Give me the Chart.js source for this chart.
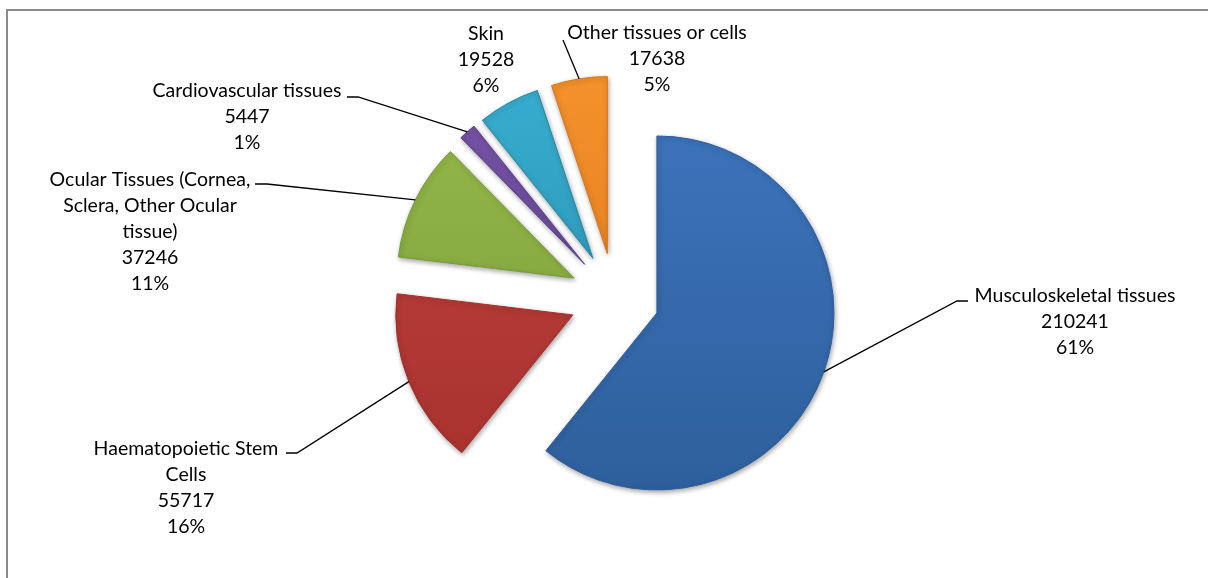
<!DOCTYPE html>
<html>
<head>
<meta charset="utf-8">
<script src="https://cdn.jsdelivr.net/npm/chart.js@4.4.1/dist/chart.umd.min.js"></script>
<style>
  html, body { margin: 0; padding: 0; background: #fff; width: 1208px; height: 578px; overflow: hidden; }
  #frame { position: absolute; left: 6px; top: 9px; width: 1230px; height: 620px; border: 2px solid #8a8a8a; }
  #tissueChart { position: absolute; left: 0; top: 0; }
</style>
</head>
<body>
<div id="frame"></div>
<canvas id="tissueChart" width="1208" height="578"></canvas>
<script>
// data
const categories = [
  'Musculoskeletal tissues',
  'Haematopoietic Stem Cells',
  'Ocular Tissues (Cornea, Sclera, Other Ocular tissue)',
  'Cardiovascular tissues',
  'Skin',
  'Other tissues or cells'
];
const counts = [210241, 55717, 37246, 5447, 19528, 17638];
const percents = [61, 16, 11, 1, 6, 5];

// slice colours: [light, dark]
const sliceColors = [
  ['#3d76bf', '#2d5d99'],
  ['#c4433f', '#a32f2b'],
  ['#98bd4c', '#789a36'],
  ['#7a57ab', '#5b3e88'],
  ['#3bb3d6', '#2387a4'],
  ['#f7962f', '#dd7417']
];

const EXPLODE = 45;
const LINE_H = 26;
const FONT = '19.5px Lato';

// label placement: centre x, first line y, wrap width, leader elbow points
const labelLayout = [
  { x: 1075, y: 296, wrap: 400, leader: [[957, 301], [968, 301]] },
  { x: 186, y: 449, wrap: 205, leader: [[297, 453], [286, 453]] },
  { x: 150, y: 180, wrap: 220, leader: [[267, 184], [255, 184]] },
  { x: 247, y: 91, wrap: 400, leader: [[358, 97], [347, 97]] },
  { x: 486, y: 34, wrap: 400, leader: null },
  { x: 657, y: 33, wrap: 400, leader: [[563, 40]] }
];

function wrapText(ctx, text, maxW) {
  const words = text.split(' ');
  const lines = [];
  let cur = '';
  words.forEach(w => {
    const test = cur ? cur + ' ' + w : w;
    if (ctx.measureText(test).width > maxW && cur) {
      lines.push(cur);
      cur = w;
    } else {
      cur = test;
    }
  });
  lines.push(cur);
  return lines;
}

// draw each slice pulled out along its mid angle
const explodePlugin = {
  id: 'explode',
  beforeDatasetDraw(chart, args) {
    const ctx = chart.ctx;
    args.meta.data.forEach(arc => {
      const mid = (arc.startAngle + arc.endAngle) / 2;
      ctx.save();
      ctx.translate(Math.cos(mid) * EXPLODE, Math.sin(mid) * EXPLODE);
      ctx.shadowColor = 'rgba(0,0,0,0.35)';
      ctx.shadowBlur = 5;
      ctx.shadowOffsetX = 1;
      ctx.shadowOffsetY = 2;
      arc.draw(ctx);
      ctx.restore();
    });
    return false;
  }
};

const labelPlugin = {
  id: 'sliceLabels',
  afterDatasetsDraw(chart) {
    const ctx = chart.ctx;
    const meta = chart.getDatasetMeta(0);
    ctx.save();
    ctx.font = FONT;
    ctx.fillStyle = '#000';
    ctx.strokeStyle = '#000';
    ctx.lineWidth = 1.3;
    ctx.textAlign = 'center';
    ctx.textBaseline = 'middle';
    meta.data.forEach((arc, i) => {
      const lay = labelLayout[i];
      const mid = (arc.startAngle + arc.endAngle) / 2;
      const r = arc.outerRadius + EXPLODE;
      if (lay.leader) {
        ctx.beginPath();
        ctx.moveTo(arc.x + Math.cos(mid) * r, arc.y + Math.sin(mid) * r);
        lay.leader.forEach(p => ctx.lineTo(p[0], p[1]));
        ctx.stroke();
      }
      const lines = wrapText(ctx, categories[i], lay.wrap);
      lines.push(String(counts[i]));
      lines.push(percents[i] + '%');
      lines.forEach((t, k) => ctx.fillText(t, lay.x, lay.y + k * LINE_H));
    });
    ctx.restore();
  }
};

const ctx = document.getElementById('tissueChart').getContext('2d');

new Chart(ctx, {
  type: 'pie',
  data: {
    labels: categories,
    datasets: [{
      data: counts,
      radius: 177,
      borderWidth: 1,
      borderColor: sliceColors.map(c => c[1]),
      backgroundColor: (c) => {
        const area = c.chart.chartArea;
        const col = sliceColors[c.dataIndex % sliceColors.length];
        if (!area) return col[0];
        const g = c.chart.ctx.createLinearGradient(0, 60, 0, 520);
        g.addColorStop(0, col[0]);
        g.addColorStop(1, col[1]);
        return g;
      }
    }]
  },
  options: {
    responsive: false,
    animation: false,
    events: [],
    layout: { padding: { left: 21, top: 18, right: 0, bottom: 0 } },
    plugins: {
      legend: { display: false },
      tooltip: { enabled: false }
    }
  },
  plugins: [explodePlugin, labelPlugin]
});
</script>
</body>
</html>
